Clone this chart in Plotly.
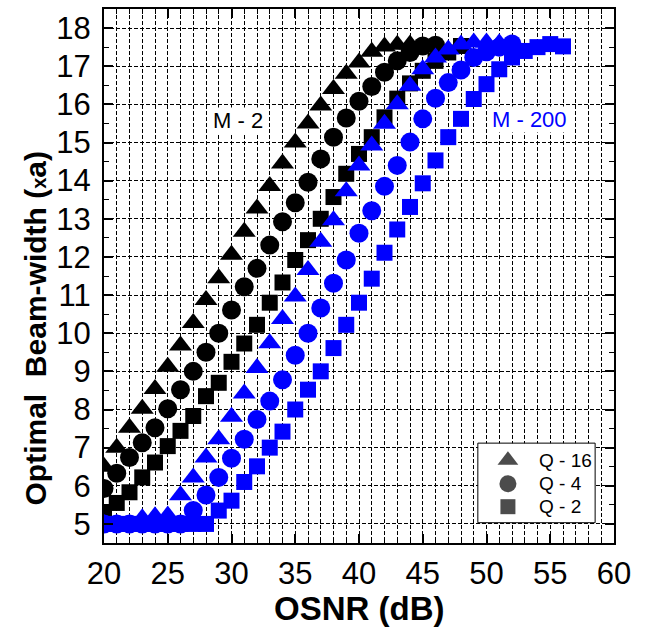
import plotly.graph_objects as go

# OSNR sweep (dB) and optimal beam-width (in units of a) for each case
osnr_m2_q16 = list(range(20, 45))
beam_m2_q16 = [6.5, 7.0, 7.52, 8.02, 8.54, 9.12, 9.68, 10.27, 10.87, 11.44, 12.06, 12.66,
               13.27, 13.86, 14.45, 15.0, 15.5, 15.97, 16.4, 16.8, 17.1, 17.38, 17.52,
               17.56, 17.57]

osnr_m2_q4 = list(range(20, 47))
beam_m2_q4 = [5.93, 6.33, 6.74, 7.13, 7.52, 8.02, 8.52, 9.0, 9.5, 10.0, 10.61, 11.22,
              11.7, 12.31, 12.92, 13.42, 13.96, 14.57, 15.14, 15.64, 16.08, 16.47, 16.84,
              17.14, 17.36, 17.53, 17.55]

osnr_m2_q2 = list(range(20, 49))
beam_m2_q2 = [5.3, 5.55, 5.83, 6.22, 6.61, 7.04, 7.44, 7.83, 8.35, 8.7, 9.25, 9.73,
              10.22, 10.8, 11.33, 11.92, 12.44, 13.0, 13.57, 14.18, 14.7, 15.14, 15.66,
              16.15, 16.55, 16.88, 17.14, 17.36, 17.53]

osnr_m200_q16 = list(range(20, 52))
beam_m200_q16 = [5.0, 5.0, 5.0, 5.15, 5.2, 5.22, 5.75, 6.22, 6.74, 7.22, 7.81, 8.42,
                 9.09, 9.74, 10.37, 10.96, 11.66, 12.4, 12.96, 13.72, 14.4, 14.92, 15.49,
                 16.0, 16.49, 16.92, 17.23, 17.44, 17.57, 17.62, 17.62, 17.6]

osnr_m200_q4 = list(range(20, 53))
beam_m200_q4 = [5.0, 5.0, 5.0, 5.0, 5.0, 5.0, 5.0, 5.35, 5.76, 6.22, 6.72, 7.22, 7.74,
                8.22, 8.78, 9.42, 10.0, 10.66, 11.31, 11.92, 12.62, 13.21, 13.85, 14.4,
                15.01, 15.62, 16.16, 16.57, 16.9, 17.23, 17.38, 17.5, 17.58]

osnr_m200_q2 = list(range(20, 57))
beam_m200_q2 = [5.0, 5.0, 5.0, 5.0, 5.0, 5.0, 5.0, 5.0, 5.0, 5.35, 5.61, 6.1, 6.51,
                7.0, 7.42, 8.0, 8.52, 9.0, 9.61, 10.22, 10.8, 11.43, 12.11, 12.72, 13.31,
                13.93, 14.53, 15.14, 15.62, 16.14, 16.53, 16.92, 17.23, 17.4, 17.5,
                17.58, 17.52]

key_names = ["Q - 16", "Q - 4", "Q - 2"]
symbols = ["triangle-up", "circle", "square"]
sizes = [20, 19, 16]

BLACK = "#000000"
BLUE = "#0000FF"
FONT = "Liberation Sans, Arial, sans-serif"

X_RANGE = [20, 60]
Y_RANGE = [4.5, 18.5]

series = [
    (osnr_m2_q16, beam_m2_q16, 0, BLACK),
    (osnr_m2_q4, beam_m2_q4, 1, BLACK),
    (osnr_m2_q2, beam_m2_q2, 2, BLACK),
    (osnr_m200_q16, beam_m200_q16, 0, BLUE),
    (osnr_m200_q4, beam_m200_q4, 1, BLUE),
    (osnr_m200_q2, beam_m200_q2, 2, BLUE),
]

fig = go.Figure()
for xs, ys, k, col in series:
    fig.add_trace(go.Scatter(
        x=xs, y=ys, mode="markers", showlegend=False,
        marker=dict(symbol=symbols[k], size=sizes[k], color=col, line=dict(width=0)),
    ))

# --- symbol key, boxed in the lower-right corner of the plot ---
key_x0, key_x1, key_y0, key_y1 = 0.733, 0.963, 0.038, 0.187
key_sym_x, key_txt_x = 0.792, 0.849
key_rows = [0.155, 0.111, 0.068]


def fx(f):
    return X_RANGE[0] + f * (X_RANGE[1] - X_RANGE[0])


def fy(f):
    return Y_RANGE[0] + f * (Y_RANGE[1] - Y_RANGE[0])


# white box sits over the grid but under the markers
fig.add_shape(type="rect", xref="x", yref="y",
              x0=fx(key_x0), x1=fx(key_x1), y0=fy(key_y0), y1=fy(key_y1),
              line=dict(color=BLACK, width=1), fillcolor="white", layer="between")
fig.add_trace(go.Scatter(
    x=[key_sym_x] * 3, y=key_rows, mode="markers", showlegend=False,
    xaxis="x2", yaxis="y2", hoverinfo="skip",
    marker=dict(symbol=symbols, size=[18, 17, 15], color=BLACK, line=dict(width=0)),
))
for name, yr in zip(key_names, key_rows):
    fig.add_annotation(xref="paper", yref="paper", x=key_txt_x, y=yr, text=name,
                       xanchor="left", yanchor="middle", showarrow=False,
                       font=dict(family=FONT, size=19, color=BLACK))

fig.add_annotation(x=30.5, y=15.57, text="M - 2", showarrow=False, bgcolor="white",
                   borderpad=0, font=dict(family=FONT, size=22, color=BLACK))
fig.add_annotation(x=53.4, y=15.6, text="M - 200", showarrow=False, bgcolor="white",
                   borderpad=0, font=dict(family=FONT, size=22, color=BLUE))

# axis titles
fig.add_annotation(xref="paper", yref="paper", x=0.5, y=-0.122, text="OSNR (dB)",
                   showarrow=False, xanchor="center", yanchor="middle",
                   font=dict(family=FONT, size=33, color=BLACK, weight="bold"))
fig.add_annotation(xref="paper", yref="paper", x=-0.135, y=0.402,
                   text="Optimal&nbsp; Beam-width (<span style='font-size:20px'>x</span>a)",
                   textangle=-90, showarrow=False, xanchor="center", yanchor="middle",
                   font=dict(family=FONT, size=30, color=BLACK, weight="bold"))

grid_dash = "4px,2px"
fig.update_xaxes(
    range=X_RANGE, tick0=20, dtick=5,
    ticks="inside", ticklen=9, tickwidth=1.5, tickcolor=BLACK,
    showline=True, linewidth=2, linecolor=BLACK, mirror="ticks",
    showgrid=True, gridcolor=BLACK, gridwidth=1, griddash=grid_dash,
    zeroline=False, ticklabelstandoff=2,
    tickfont=dict(family=FONT, size=31, color=BLACK),
    minor=dict(dtick=1, ticks="inside", ticklen=5, tickwidth=1.2, tickcolor=BLACK,
               showgrid=True, gridcolor=BLACK, gridwidth=1, griddash=grid_dash),
)
fig.update_yaxes(
    range=Y_RANGE, tick0=5, dtick=1,
    ticks="inside", ticklen=9, tickwidth=1.5, tickcolor=BLACK,
    showline=True, linewidth=2, linecolor=BLACK, mirror="ticks",
    showgrid=True, gridcolor=BLACK, gridwidth=1, griddash=grid_dash,
    zeroline=False, ticklabelstandoff=5,
    tickfont=dict(family=FONT, size=31, color=BLACK),
    minor=dict(dtick=0.5, ticks="inside", ticklen=5, tickwidth=1.2, tickcolor=BLACK,
               showgrid=False),
)

fig.update_layout(
    width=646, height=635,
    margin=dict(l=104, r=32, t=7, b=92),
    paper_bgcolor="white", plot_bgcolor="white",
    showlegend=False,
    xaxis2=dict(overlaying="x", range=[0, 1], visible=False, fixedrange=True),
    yaxis2=dict(overlaying="y", range=[0, 1], visible=False, fixedrange=True),
)

fig.write_html("out.html")
